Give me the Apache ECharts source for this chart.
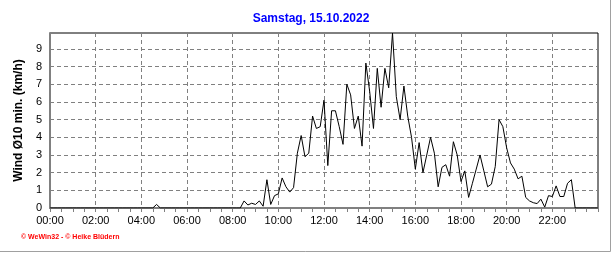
<!DOCTYPE html>
<html><head><meta charset="utf-8">
<script src="https://cdn.jsdelivr.net/npm/echarts@6/dist/echarts.min.js"></script>
<style>html,body{margin:0;padding:0;background:#fff}#c{width:616px;height:253px}</style>
</head><body><div id="c"></div><script>
const titleText = 'Samstag, 15.10.2022';
const yAxisName = 'Wind Ø10 min. (km/h)';
const copyright = '© WeWin32 - © Heike Blüdern';
const startHour = 0;
const stepMinutes = 10;
// 10-minute values, one row per hour (00:00 ... 23:50), last value = 24:00
const values = [
  0,0,0,0,0,0,
  0,0,0,0,0,0,
  0,0,0,0,0,0,
  0,0,0,0,0,0,
  0,0,0,0,0.2,0,
  0,0,0,0,0,0,
  0,0,0,0,0,0,
  0,0,0,0,0,0,
  0,0,0,0.4,0.17,0.27,
  0.2,0.4,0.1,1.6,0.2,0.7,
  0.8,1.7,1.2,0.9,1.15,3.1,
  4.1,2.9,3.1,5.2,4.5,4.6,
  6.1,2.4,5.5,5.5,4.6,3.6,
  7.0,6.4,4.5,5.2,3.5,8.2,
  6.6,4.5,7.9,5.7,7.9,6.8,
  9.9,6.3,5.0,6.9,5.2,4.0,
  2.2,3.7,2.0,3.0,4.0,3.1,
  1.2,2.3,2.45,1.8,3.75,3.0,
  1.5,2.1,0.6,1.4,2.2,3.0,
  2.1,1.2,1.35,2.35,5.0,4.6,
  3.4,2.55,2.2,1.65,1.8,0.6,
  0.4,0.3,0.25,0.5,0.05,0.7,
  0.65,1.25,0.65,0.65,1.4,1.6,
  0,0,0,0,0,0,
  0
];
const xMin = 0, xMax = 24, xInterval = 2;
const yMin = 0, yMax = 9.9, yInterval = 1;

const data = values.map((v, i) => [startHour + i * stepMinutes / 60, v]);
const font = 'Arial, "Liberation Sans", sans-serif';
const gray = '#808080';

const chart = echarts.init(document.getElementById('c'), null, {renderer: 'canvas'});
chart.setOption({
  animation: false,
  backgroundColor: '#fff',
  grid: {left: 50, right: 18, top: 33, bottom: 45, show: true, borderColor: '#000', borderWidth: 1, backgroundColor: 'transparent'},
  xAxis: {
    type: 'value', min: xMin, max: xMax, interval: xInterval,
    axisLine: {show: true, onZero: false, lineStyle: {color: gray, width: 2}},
    axisTick: {show: true, length: 4, lineStyle: {color: gray}},
    minorTick: {show: true, splitNumber: 4, length: 4, lineStyle: {color: gray}},
    axisLabel: {
      color: '#000', fontFamily: font, fontSize: 11, margin: 7, showMaxLabel: false,
      formatter: h => (h < 10 ? '0' : '') + h + ':00'
    },
    splitLine: {show: true, showMinLine: false, showMaxLine: false, lineStyle: {color: gray, type: [4, 3], width: 1}}
  },
  yAxis: {
    type: 'value', min: yMin, max: yMax, interval: yInterval,
    name: yAxisName, nameLocation: 'middle', nameGap: 17,
    nameTextStyle: {fontFamily: font, fontSize: 12, fontWeight: 'bold', color: '#000'},
    axisLine: {show: true, lineStyle: {color: gray, width: 2}},
    axisTick: {show: false},
    axisLabel: {color: '#000', fontFamily: font, fontSize: 11, margin: 8, showMaxLabel: false},
    splitLine: {show: true, showMinLine: false, showMaxLine: false, lineStyle: {color: gray, type: [4, 3], width: 1}}
  },
  series: [{
    type: 'line', data: data, showSymbol: false, symbol: 'none',
    lineStyle: {color: '#000', width: 1}, z: 5
  }],
  graphic: [
    {type: 'text', x: 311, y: 13, style: {text: titleText, textAlign: 'center', textVerticalAlign: 'top', fill: '#0000ff', font: 'bold 12px ' + font}},
    {type: 'text', x: 21, y: 234, style: {text: copyright, textAlign: 'left', textVerticalAlign: 'top', fill: '#ff0000', font: 'bold 7px ' + font}},
    {type: 'line', shape: {x1: 610.5, y1: 0, x2: 610.5, y2: 251.5}, style: {stroke: '#a0a0a0', lineWidth: 1}},
    {type: 'line', shape: {x1: 0, y1: 251.5, x2: 610.5, y2: 251.5}, style: {stroke: '#a0a0a0', lineWidth: 1}}
  ]
});
</script></body></html>
